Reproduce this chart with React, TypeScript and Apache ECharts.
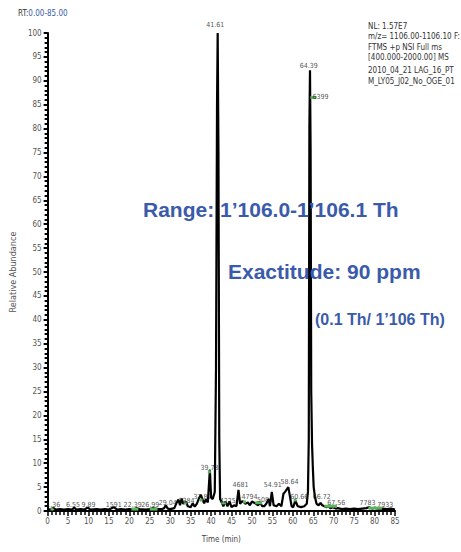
import React, { useEffect, useRef } from "react";
import * as echarts from "echarts";

// Chromatogram trace (time in min, relative abundance in %)
const traceTimes = [
  0, 1, 1.3, 2, 3, 4, 5, 6, 6.5, 7, 8, 9, 9.8, 10.5, 12, 13, 14, 15, 16.2, 17, 18, 19, 20, 21, 21.7, 22.5, 24, 25, 25.8, 27, 28, 28.5, 28.9, 29.4, 30, 31,
  31.5, 32, 32.4, 32.8, 33.2, 33.8, 34.3, 35, 35.5, 36, 36.5, 37, 37.5, 37.9, 38.3, 38.7, 39.2, 39.7, 40.0, 40.4, 40.9, 41.2, 41.45, 41.61, 41.8, 42.0, 42.2,
  42.6, 43, 43.5, 44, 44.5, 45, 45.6, 46.2, 46.7, 47.1, 47.5, 48.0, 48.4, 49, 49.5, 50, 50.8, 51.5, 52, 52.5, 53, 53.5, 54.1, 54.4, 54.85, 55.3, 56, 56.6,
  57.2, 57.7, 58.1, 58.9, 59.3, 59.7, 60.1, 60.6, 61.2, 62, 62.8, 63.4, 63.7, 63.9, 64.05, 64.2, 64.35, 64.5, 64.7, 64.9, 65.1, 65.4, 65.8, 66.3, 66.8, 67.2,
  67.7, 68.2, 68.7, 69.2, 69.8, 70.5, 71, 72, 73, 74, 75, 76, 77, 78, 78.6, 79.4, 80, 81, 82, 83, 84, 85
];
const traceValues = [
  0.3, 0.4, 0.7, 0.3, 0.4, 0.3, 0.4, 0.3, 0.7, 0.3, 0.4, 0.3, 0.7, 0.3, 0.4, 0.3, 0.4, 0.3, 0.8, 0.3, 0.4, 0.3, 0.4, 0.3, 0.6, 0.4, 0.3, 0.4, 0.6, 0.4, 0.4, 0.6, 1.2, 0.5, 0.4, 0.6,
  1.6, 2.4, 1.2, 2.6, 1.5, 2.0, 1.0, 0.8, 1.6, 0.9, 1.5, 2.6, 3.4, 2.4, 1.6, 2.4, 1.8, 8.6, 2.8, 2.5, 4.0, 30, 85, 100, 75, 15, 2.5,
  1.8, 1.0, 2.0, 1.0, 2.0, 0.8, 1.2, 1.0, 4.4, 1.5, 2.0, 1.9, 1.5, 1.8, 1.2, 2.0, 1.6, 1.2, 1.8, 1.0, 1.0, 1.5, 2.5, 1.0, 4.0, 1.2, 1.0, 1.5,
  1.0, 3.6, 4.0, 5.0, 3.0, 1.0, 0.8, 2.2, 1.0, 0.8, 1.0, 1.5, 4.0, 15, 80, 92.2, 75, 25, 14, 9, 5, 3, 1.5, 1.2, 1.7, 1.2,
  1.0, 0.8, 1.0, 0.6, 0.8, 0.5, 0.6, 0.4, 0.5, 0.4, 0.5, 0.4, 0.5, 0.6, 0.8, 0.5, 0.7, 0.4, 0.5, 0.4, 0.5, 0.3
];

// Peak retention-time labels
const peakLabelTexts = [
  "1.36", "6.55", "9.89", "1591", "22.39", "26.99", "29.04", "3384", "37.87", "39.78", "41.61", "4225", "4681", "4794", "5081",
  "54.91", "58.64", "60.66", "64.39", "6399", "66.72", "67.56", "7783", "7933"
];
const peakLabelTimes = [
  1.4, 6.2, 10.0, 16.2, 20.8, 25.1, 29.4, 34.0, 37.9, 39.6, 41.0, 44.1, 47.2, 49.4, 53.2,
  55.1, 59.2, 61.6, 63.9, 66.8, 67.1, 70.6, 78.3, 82.6
];
const peakLabelLevels = [
  1.3, 1.3, 1.3, 1.3, 1.3, 1.3, 1.7, 2.1, 2.9, 9.0, 101.7, 2.1, 5.4, 2.9, 2.3,
  5.4, 6.1, 2.9, 93.1, 86.6, 2.9, 1.7, 1.7, 1.3
];

// Green integration markers
const markerStart = [0.7, 20.5, 25.0, 33.3, 37.2, 39.2, 42.5, 47.8, 50.8, 60.2, 64.3, 67.7, 78.5];
const markerEnd = [1.4, 22.2, 26.9, 34.0, 37.9, 39.9, 43.7, 48.5, 52.5, 60.9, 65.8, 70.8, 81.8];
const markerLevels = [0.4, 0.4, 0.4, 1.7, 2.3, 8.2, 1.7, 1.9, 1.7, 2.3, 86.5, 1.0, 0.6];

const xTicks = { min: 0, max: 85, interval: 5 };
const yTicks = { min: 0, max: 100, interval: 5 };

const headerLines = [
  "NL: 1.57E7",
  "m/z= 1106.00-1106.10 F:",
  "FTMS +p NSI Full ms",
  "[400.000-2000.00] MS",
  "2010_04_21 LAG_16_PT",
  "M_LY05_J02_No_OGE_01",
];

const NARROW = "'Liberation Sans Narrow', 'DejaVu Sans Condensed', 'Roboto Condensed', 'Liberation Sans', sans-serif";
const BOLD = "'Liberation Sans', Arial, sans-serif";
const BLUE = "#3a5ba9";

export default function App() {
  const ref = useRef<HTMLDivElement>(null);
  useEffect(() => {
    if (!ref.current) return;
    const chart = echarts.init(ref.current, undefined, { renderer: "svg" });
    const trace = traceTimes.map((t, i) => [t, traceValues[i]]);
    const labels = peakLabelTimes.map((t, i) => ({ value: [t, peakLabelLevels[i]], name: peakLabelTexts[i] }));
    const markers = markerStart.map((s, i) => [s, markerEnd[i], markerLevels[i]]);
    const headerY = [27, 37, 48, 58, 71, 82];

    chart.setOption({
      animation: false,
      backgroundColor: "#ffffff",
      grid: { left: 39, right: 66, top: 33, bottom: 41 },
      xAxis: {
        type: "value",
        min: xTicks.min,
        max: xTicks.max,
        interval: xTicks.interval,
        name: "Time (min)",
        nameLocation: "middle",
        nameGap: 24,
        nameTextStyle: { fontFamily: NARROW, fontSize: 8, color: "#444" },
        axisLine: { show: true, onZero: false, lineStyle: { color: "#000", width: 2 } },
        axisTick: { show: true, length: 5, lineStyle: { color: "#000", width: 1.5 } },
        minorTick: { show: true, splitNumber: 5, length: 4, lineStyle: { color: "#000", width: 1.5 } },
        axisLabel: { fontFamily: NARROW, fontSize: 8, color: "#555", margin: 6 },
        splitLine: { show: false },
      },
      yAxis: {
        type: "value",
        min: yTicks.min,
        max: yTicks.max,
        interval: yTicks.interval,
        name: "Relative Abundance",
        nameLocation: "middle",
        nameGap: 20,
        nameTextStyle: { fontFamily: NARROW, fontSize: 9, color: "#555" },
        axisLine: { show: true, onZero: false, lineStyle: { color: "#000", width: 2 } },
        axisTick: { show: true, length: 4, lineStyle: { color: "#000", width: 2 } },
        minorTick: { show: true, splitNumber: 5, length: 3, lineStyle: { color: "#000", width: 2 } },
        axisLabel: { fontFamily: NARROW, fontSize: 8, color: "#555", margin: 6 },
        splitLine: { show: false },
      },
      series: [
        {
          type: "line",
          data: trace,
          symbol: "none",
          lineStyle: { color: "#000", width: 2.2 },
          z: 3,
        },
        {
          type: "custom",
          data: markers,
          encode: { x: [0, 1], y: 2 },
          z: 4,
          renderItem: (params: any, api: any) => {
            const s = api.coord([api.value(0), api.value(2)]);
            const e = api.coord([api.value(1), api.value(2)]);
            return {
              type: "rect",
              shape: { x: s[0], y: s[1] - 1.5, width: Math.max(3, e[0] - s[0]), height: 3 },
              style: { fill: "#5bb55a" },
            };
          },
        },
        {
          type: "scatter",
          data: labels,
          symbolSize: 1,
          clip: false,
          itemStyle: { color: "rgba(0,0,0,0)" },
          z: 5,
          label: {
            show: true,
            position: "inside",
            formatter: "{b}",
            fontFamily: NARROW,
            fontSize: 7,
            color: "#222",
          },
        },
      ],
      graphic: [
        {
          type: "text",
          left: 18,
          top: 9,
          style: {
            text: "{a|RT:}{b|0.00-85.00}",
            rich: {
              a: { fontFamily: NARROW, fontSize: 8, fill: "#333" },
              b: { fontFamily: NARROW, fontSize: 8, fill: BLUE },
            },
          },
        },
        ...headerLines.map((t, i) => ({
          type: "text",
          left: 368,
          top: headerY[i] - 5,
          style: { text: t, fontFamily: NARROW, fontSize: 8, fill: "#333" },
        })),
        {
          type: "text",
          left: 143,
          top: 199,
          z: 10,
          style: { text: "Range: 1’106.0-1’106.1 Th", fontFamily: BOLD, fontWeight: "bold", fontSize: 21, fill: BLUE },
        },
        {
          type: "text",
          left: 228,
          top: 261,
          z: 10,
          style: { text: "Exactitude: 90 ppm", fontFamily: BOLD, fontWeight: "bold", fontSize: 21, fill: BLUE },
        },
        {
          type: "text",
          left: 315,
          top: 311,
          z: 10,
          style: { text: "(0.1 Th/ 1’106 Th)", fontFamily: BOLD, fontWeight: "bold", fontSize: 16, fill: BLUE },
        },
      ],
    });
    return () => chart.dispose();
  }, []);
  return <div ref={ref} style={{ position: "fixed", left: 0, top: 0, width: 461, height: 552, background: "#fff" }} />;
}
